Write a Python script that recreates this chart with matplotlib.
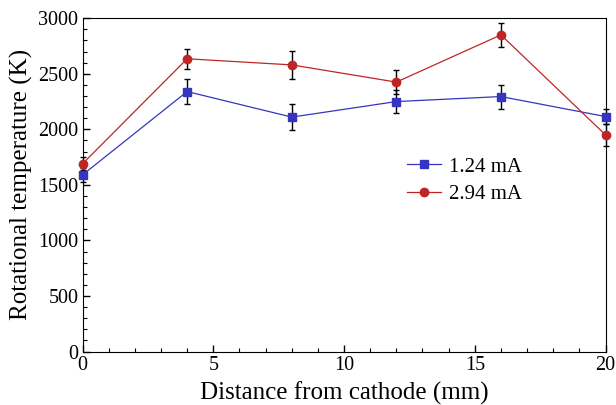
import matplotlib
matplotlib.use("Agg")
import matplotlib.pyplot as plt
from matplotlib.ticker import MultipleLocator

plt.rcParams['font.family'] = ['Liberation Serif', 'DejaVu Serif']
plt.rcParams['mathtext.fontset'] = 'stix'

# distance from cathode (mm)
distance = [0, 4, 8, 12, 16, 20]

# rotational temperature (K)
temp_low = [1590, 2340, 2110, 2250, 2295, 2115]
err_low = [60, 110, 118, 100, 108, 70]
temp_high = [1690, 2635, 2580, 2425, 2850, 1950]
err_high = [60, 90, 125, 110, 105, 100]

labels = ['1.24 mA', '2.94 mA']

fig = plt.figure(figsize=(6.16, 4.05), dpi=100)
ax = fig.add_axes([0.134, 0.132, 0.849, 0.823])

ax.errorbar(distance, temp_low, yerr=err_low, color='#3535c0', marker='s', markersize=6,
            linewidth=0.9, ecolor='black', elinewidth=1, capsize=2.5, capthick=1,
            label=labels[0], clip_on=False, zorder=3)
ax.errorbar(distance, temp_high, yerr=err_high, color='#c02525', marker='o', markersize=6,
            linewidth=0.9, ecolor='black', elinewidth=1, capsize=2.5, capthick=1,
            label=labels[1], clip_on=False, zorder=3)

ax.set_xlim(0, 20)
ax.set_ylim(0, 3000)
ax.xaxis.set_major_locator(MultipleLocator(5))
ax.xaxis.set_minor_locator(MultipleLocator(1))
ax.yaxis.set_major_locator(MultipleLocator(500))
ax.yaxis.set_minor_locator(MultipleLocator(100))
ax.tick_params(which='both', direction='in', labelsize=14.5, pad=3)
ax.tick_params(which='major', length=5, width=1)
ax.tick_params(which='minor', length=3, width=0.8)

ax.set_xlabel('Distance from cathode (mm)', fontsize=18, labelpad=5)
ax.set_ylabel('Rotational temperature (K)', fontsize=18, labelpad=4)

# legend without error bars
handles, _ = ax.get_legend_handles_labels()
handles = [h[0] for h in handles]
ax.legend(handles, labels, loc='upper left', bbox_to_anchor=(0.585, 0.64), frameon=False,
          fontsize=15, handlelength=1.6, labelspacing=0.4, handletextpad=0.4)

fig.savefig('out.png', dpi=100)
